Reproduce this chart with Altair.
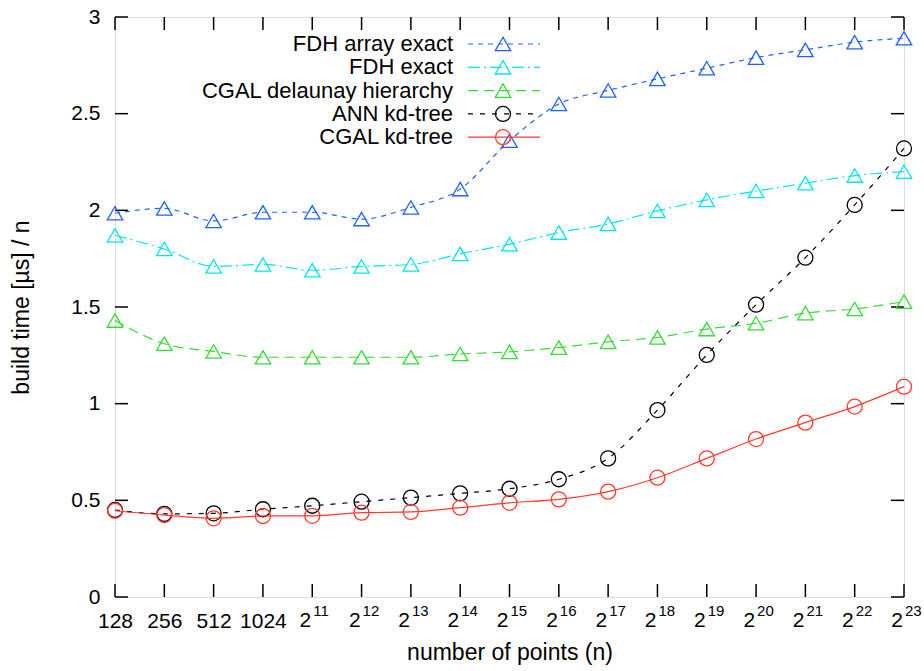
import altair as alt
import pandas as pd

# ---------------- data ----------------
exps = list(range(7, 24))  # n = 2^exp
fdh_array_exact = [1.985, 2.01, 1.945, 1.99, 1.99, 1.955, 2.015, 2.11, 2.36,
                   2.55, 2.62, 2.68, 2.735, 2.79, 2.83, 2.87, 2.89]
fdh_exact = [1.87, 1.80, 1.71, 1.72, 1.69, 1.71, 1.72, 1.775, 1.825,
             1.885, 1.93, 1.997, 2.054, 2.10, 2.14, 2.18, 2.20]
cgal_delaunay = [1.43, 1.31, 1.27, 1.24, 1.24, 1.24, 1.24, 1.257, 1.268,
                 1.29, 1.32, 1.343, 1.386, 1.416, 1.468, 1.49, 1.528]
ann_kdtree = [0.45, 0.43, 0.433, 0.454, 0.472, 0.493, 0.514, 0.536, 0.56,
              0.609, 0.717, 0.967, 1.252, 1.512, 1.755, 2.028, 2.32]
cgal_kdtree = [0.446, 0.424, 0.407, 0.419, 0.42, 0.436, 0.44, 0.462, 0.487,
               0.505, 0.545, 0.617, 0.717, 0.817, 0.902, 0.985, 1.088]

series_names = ["FDH array exact", "FDH exact", "CGAL delaunay hierarchy",
                "ANN kd-tree", "CGAL kd-tree"]
series_values = [fdh_array_exact, fdh_exact, cgal_delaunay, ann_kdtree, cgal_kdtree]

y_ticks = [0, 0.5, 1, 1.5, 2, 2.5, 3]
plain_tick_exps = [7, 8, 9, 10]
plain_tick_labels = ["128", "256", "512", "1024"]
pow_tick_exps = list(range(11, 24))
pow_base = "2"

# ---------------- styles ----------------
styles = {
    "FDH array exact": dict(color="#2262f2", dash=[5, 5], shape="triangle-up", size=240),
    "FDH exact": dict(color="#00e6f0", dash=[12, 4, 2, 4], shape="triangle-up", size=240),
    "CGAL delaunay hierarchy": dict(color="#33dd33", dash=[10, 6], shape="triangle-up", size=240),
    "ANN kd-tree": dict(color="#000000", dash=[5, 7], shape="circle", size=225),
    "CGAL kd-tree": dict(color="#ff3a2e", dash=None, shape="circle", size=225),
}

FONT = "Liberation Sans"
W, H = 789, 580

rows = []
for name, vals in zip(series_names, series_values):
    for e, v in zip(exps, vals):
        rows.append({"series": name, "exp": e, "value": v})
df = pd.DataFrame(rows)

xs = alt.Scale(domain=[7, 23], nice=False, zero=False)
ys = alt.Scale(domain=[0, 3], nice=False, zero=False)

label_expr = " : ".join(
    f"datum.value == {e} ? '{l}'" for e, l in zip(plain_tick_exps, plain_tick_labels)
) + " : ''"

xaxis = alt.Axis(values=plain_tick_exps, labelExpr=label_expr, ticks=False, tickSize=0,
                 domain=False, grid=False, labelPadding=30, labelBaseline="alphabetic",
                 labelFont=FONT, labelFontSize=21, labelColor="black", labelFlush=False,
                 labelOverlap=False, title="number of points (n)", titleFont=FONT,
                 titleFontSize=23, titleFontWeight="normal", titleColor="black",
                 titleX=W / 2, titleY=62, titleAlign="center", titleBaseline="alphabetic")
yaxis = alt.Axis(values=y_ticks, format="~g", ticks=False, tickSize=0, domain=False,
                 grid=False, labelPadding=15, labelFont=FONT, labelFontSize=21,
                 labelColor="black", labelFlush=False, labelOverlap=False,
                 title="build time [µs] / n", titleFont=FONT, titleFontSize=23,
                 titleFontWeight="normal", titleColor="black", titleX=-87, titleY=H / 2,
                 titleAngle=270, titleAlign="center", titleBaseline="alphabetic")

X = alt.X("exp:Q", scale=xs, axis=xaxis)
Y = alt.Y("value:Q", scale=ys, axis=yaxis)

layers = []

# inward ticks (mirrored on all four sides)
xt = alt.Chart(pd.DataFrame({"exp": exps}))
layers.append(xt.mark_rule(color="black", strokeWidth=1.5).encode(x=X, y=alt.value(H), y2=alt.value(H - 13)))
layers.append(xt.mark_rule(color="black", strokeWidth=1.5).encode(x=X, y=alt.value(0), y2=alt.value(13)))
yt = alt.Chart(pd.DataFrame({"value": y_ticks}))
layers.append(yt.mark_rule(color="black", strokeWidth=1.5).encode(y=Y, x=alt.value(0), x2=alt.value(13)))
layers.append(yt.mark_rule(color="black", strokeWidth=1.5).encode(y=Y, x=alt.value(W - 13), x2=alt.value(W)))

# power-of-two tick labels: base "2" and superscript exponent
pw = pd.DataFrame({"exp": pow_tick_exps, "base": [pow_base] * len(pow_tick_exps),
                   "sup": [str(e) for e in pow_tick_exps]})
layers.append(alt.Chart(pw).mark_text(align="right", baseline="alphabetic", dx=-1, font=FONT,
                                      fontSize=21, color="black")
              .encode(x=X, y=alt.value(H + 30), text="base:N"))
layers.append(alt.Chart(pw).mark_text(align="left", baseline="alphabetic", dx=1, font=FONT,
                                      fontSize=15, color="black")
              .encode(x=X, y=alt.value(H + 19), text="sup:N"))

# series and legend
for i, name in enumerate(series_names):
    st = styles[name]
    line_kw = dict(color=st["color"], strokeWidth=1.2, interpolate="monotone")
    rule_kw = dict(color=st["color"], strokeWidth=1.2)
    if st["dash"]:
        line_kw["strokeDash"] = st["dash"]
        rule_kw["strokeDash"] = st["dash"]
    pt_kw = dict(shape=st["shape"], size=st["size"], filled=False, color=st["color"],
                 strokeWidth=1.3, opacity=1)
    sub = alt.Chart(df).transform_filter(alt.datum.series == name)
    layers.append(sub.mark_line(**line_kw).encode(x=X, y=Y))
    layers.append(sub.mark_point(**pt_kw).encode(x=X, y=Y))

    yv = 27 + 23.3 * i
    leg = alt.Chart(pd.DataFrame({"name": [name]}))
    layers.append(leg.mark_text(align="right", baseline="middle", font=FONT, fontSize=22,
                                color="black")
                  .encode(x=alt.value(338), y=alt.value(yv), text="name:N"))
    layers.append(leg.mark_rule(**rule_kw).encode(x=alt.value(353), x2=alt.value(425), y=alt.value(yv)))
    layers.append(leg.mark_point(**pt_kw).encode(x=alt.value(388), y=alt.value(yv)))

chart = alt.layer(*layers).properties(
    width=W, height=H,
    padding={"left": 115, "top": 17, "right": 20, "bottom": 74},
    autosize=alt.AutoSizeParams(type="none"),
).configure_view(stroke="black", strokeWidth=1.5).configure(background="white")

chart.save("out.html", embed_options={"renderer": "svg", "actions": False})
